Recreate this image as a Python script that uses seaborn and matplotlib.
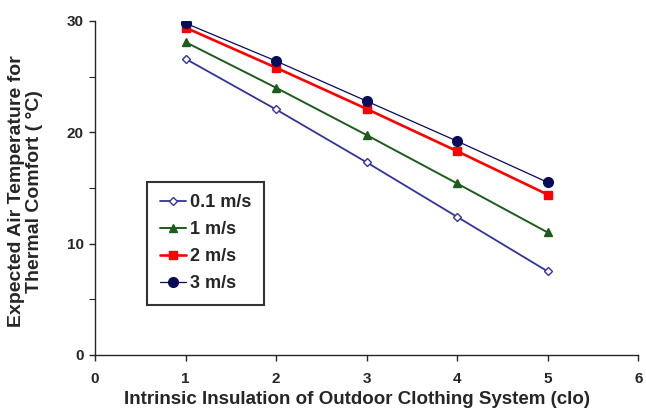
import pandas as pd
import matplotlib.pyplot as plt
from matplotlib.ticker import MultipleLocator
import seaborn as sns

# clothing insulation (clo) and expected comfort temperature per wind speed
clo = [1, 2, 3, 4, 5]
wind_labels = ["0.1 m/s", "1 m/s", "2 m/s", "3 m/s"]
temp_01 = [26.6, 22.05, 17.3, 12.4, 7.5]
temp_1 = [28.1, 24.0, 19.75, 15.4, 11.0]
temp_2 = [29.4, 25.8, 22.1, 18.3, 14.4]
temp_3 = [29.8, 26.4, 22.8, 19.2, 15.5]

df = pd.DataFrame({
    "clo": clo * 4,
    "temp": temp_01 + temp_1 + temp_2 + temp_3,
    "wind": [w for w in wind_labels for _ in clo],
})

sns.set_style("ticks")
plt.rcParams["font.family"] = ["Liberation Sans", "DejaVu Sans"]
plt.rcParams["font.weight"] = "bold"

styles = {
    "0.1 m/s": dict(color="#33339a", marker="D", mfc="white", ms=4.5, lw=1.3),
    "1 m/s": dict(color="#1c5c1c", marker="^", mfc="#1c5c1c", ms=6, lw=1.4),
    "2 m/s": dict(color="#ff0000", marker="s", mfc="#ff0000", ms=5.5, lw=1.9),
    "3 m/s": dict(color="#0a0a5a", marker="o", mfc="#0a0a5a", ms=7, lw=0.9),
}

fig = plt.figure(figsize=(6.46, 4.19), dpi=100)
ax = fig.add_axes([0.147, 0.153, 0.841, 0.797])

for w in wind_labels:
    st = styles[w]
    sub = df[df["wind"] == w]
    sns.lineplot(data=sub, x="clo", y="temp", ax=ax, label=w,
                 color=st["color"], marker=st["marker"], markersize=st["ms"],
                 markerfacecolor=st["mfc"], markeredgecolor=st["color"],
                 markeredgewidth=1.0, linewidth=st["lw"])

ax.set_xlim(0, 6)
ax.set_ylim(0, 30)
ax.set_xticks(range(0, 7))
ax.set_yticks([0, 10, 20, 30])
ax.yaxis.set_minor_locator(MultipleLocator(5))
sns.despine(ax=ax)
ax.spines["left"].set_linewidth(1.0)
ax.spines["bottom"].set_linewidth(1.0)
ax.tick_params(axis="y", which="major", length=4, width=1.0, labelsize=11, pad=4)
ax.tick_params(axis="y", which="minor", length=4, width=0.8)
ax.tick_params(axis="x", length=4, width=1.0, labelsize=11, pad=8)
for lbl in ax.get_xticklabels() + ax.get_yticklabels():
    lbl.set_fontweight("bold")

ax.set_xlabel("Intrinsic Insulation of Outdoor Clothing System (clo)",
              fontsize=13.5, fontweight="bold")
ax.set_ylabel("Expected Air Temperature for\nThermal Comfort ( °C)",
              fontsize=14, fontweight="bold", linespacing=1.05)
ax.xaxis.set_label_coords(0.482, -0.108)
ax.yaxis.set_label_coords(-0.096, 0.49)

leg = ax.legend(loc="lower left", bbox_to_anchor=(0.096, 0.15), borderaxespad=0,
                fancybox=False, frameon=True, edgecolor="black", fontsize=13,
                handlelength=1.45, borderpad=0.7, labelspacing=0.55,
                handletextpad=0.25)
leg.get_frame().set_linewidth(1.5)
for t in leg.get_texts():
    t.set_fontweight("bold")

fig.savefig("out.png", dpi=100)
